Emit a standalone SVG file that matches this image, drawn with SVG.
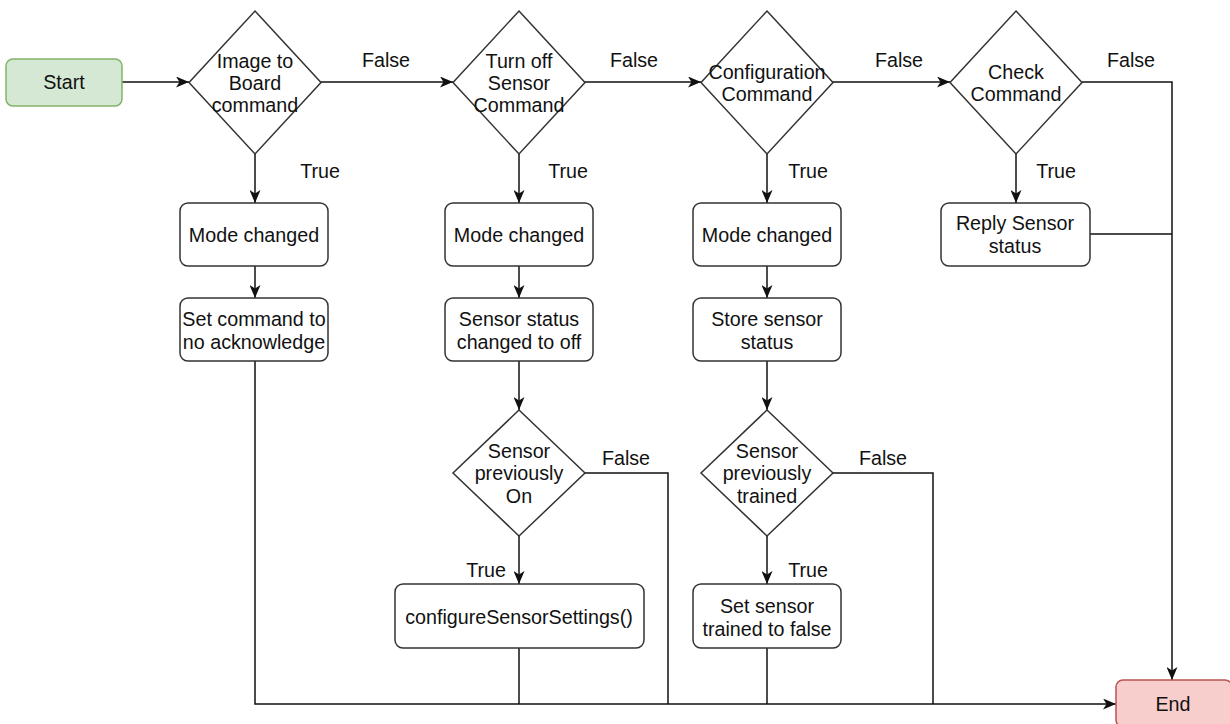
<svg xmlns="http://www.w3.org/2000/svg" width="1230" height="724" viewBox="0 0 1230 724">
  <style>
    text { font-family: "Liberation Sans", Arial, sans-serif; font-size: 19.7px; fill: #111; text-anchor: middle; }
    .box { fill: #ffffff; stroke: #333; stroke-width: 1.5; }
    .dec { fill: #ffffff; stroke: #333; stroke-width: 1.5; }
    .start { fill: #d5e8d4; stroke: #82b366; stroke-width: 1.5; }
    .end { fill: #f8cecc; stroke: #b85450; stroke-width: 1.5; }
    .edge { fill: none; stroke: #111; stroke-width: 1.5; }
    .arrow { marker-end: url(#head); }
  </style>
  <defs>
    <marker id="head" viewBox="0 0 13 11" refX="13" refY="5.5" markerWidth="13" markerHeight="11" markerUnits="userSpaceOnUse" orient="auto">
      <path d="M0,0 L13,5.5 L0,11 L3.5,5.5 Z" fill="#111"/>
    </marker>
  </defs>

  <!-- connectors -->
  <g id="connectors">
    <path class="edge arrow" d="M122,82 H189"/>
    <path class="edge arrow" d="M321,82 H453"/>
    <path class="edge arrow" d="M585,82 H701"/>
    <path class="edge arrow" d="M833,82 H950"/>
    <path class="edge arrow" d="M1082,82 H1172 V680"/>
    <path class="edge arrow" d="M255,154 V203"/>
    <path class="edge arrow" d="M519,154 V203"/>
    <path class="edge arrow" d="M767,154 V203"/>
    <path class="edge arrow" d="M1016,154 V203"/>
    <path class="edge arrow" d="M255,266 V298"/>
    <path class="edge arrow" d="M519,266 V298"/>
    <path class="edge arrow" d="M767,266 V298"/>
    <path class="edge arrow" d="M519,361 V410"/>
    <path class="edge arrow" d="M767,361 V410"/>
    <path class="edge arrow" d="M519,536 V584"/>
    <path class="edge arrow" d="M767,536 V584"/>
    <path class="edge" d="M1090,234 H1172"/>
    <path class="edge arrow" d="M255,361 V704 H1116"/>
    <path class="edge" d="M519,648 V704"/>
    <path class="edge" d="M767,648 V704"/>
    <path class="edge" d="M585,473 H668 V704"/>
    <path class="edge" d="M833,473 H933 V704"/>
    <text x="386" y="67">False</text>
    <text x="634" y="67">False</text>
    <text x="899" y="67">False</text>
    <text x="1131" y="67">False</text>
    <text x="320" y="178">True</text>
    <text x="568" y="178">True</text>
    <text x="808" y="178">True</text>
    <text x="1056" y="178">True</text>
    <text x="626" y="465">False</text>
    <text x="883" y="465">False</text>
    <text x="486" y="577">True</text>
    <text x="808" y="577">True</text>
  </g>

  <g id="start">
    <rect class="start" x="6" y="59" width="116" height="47" rx="7"/>
    <text x="64" y="89">Start</text>
  </g>

  <g id="imageToBoard">
    <polygon class="dec" points="255,11 321,82.5 255,154 189,82.5"/>
    <text x="255" y="68">Image to</text>
    <text x="255" y="90">Board</text>
    <text x="255" y="112">command</text>
  </g>

  <g id="turnOffSensor">
    <polygon class="dec" points="519,11 585,82.5 519,154 453,82.5"/>
    <text x="519" y="68">Turn off</text>
    <text x="519" y="90">Sensor</text>
    <text x="519" y="112">Command</text>
  </g>

  <g id="configuration">
    <polygon class="dec" points="767,11 833,82.5 767,154 701,82.5"/>
    <text x="767" y="79">Configuration</text>
    <text x="767" y="101">Command</text>
  </g>

  <g id="checkCommand">
    <polygon class="dec" points="1016,11 1082,82.5 1016,154 950,82.5"/>
    <text x="1016" y="79">Check</text>
    <text x="1016" y="101">Command</text>
  </g>

  <g id="modeChanged1">
    <rect class="box" x="180" y="203" width="148" height="63" rx="8"/>
    <text x="254" y="242">Mode changed</text>
  </g>
  <g id="modeChanged2">
    <rect class="box" x="445" y="203" width="148" height="63" rx="8"/>
    <text x="519" y="242">Mode changed</text>
  </g>
  <g id="modeChanged3">
    <rect class="box" x="693" y="203" width="148" height="63" rx="8"/>
    <text x="767" y="242">Mode changed</text>
  </g>
  <g id="replySensorStatus">
    <rect class="box" x="941" y="203" width="149" height="63" rx="8"/>
    <text x="1015" y="230">Reply Sensor</text>
    <text x="1015" y="253">status</text>
  </g>

  <g id="setCommandNoAck">
    <rect class="box" x="180" y="298" width="148" height="63" rx="8"/>
    <text x="254" y="326">Set command to</text>
    <text x="254" y="349">no acknowledge</text>
  </g>
  <g id="sensorStatusOff">
    <rect class="box" x="445" y="298" width="148" height="63" rx="8"/>
    <text x="519" y="326">Sensor status</text>
    <text x="519" y="349">changed to off</text>
  </g>
  <g id="storeSensorStatus">
    <rect class="box" x="693" y="298" width="148" height="63" rx="8"/>
    <text x="767" y="326">Store sensor</text>
    <text x="767" y="349">status</text>
  </g>

  <g id="sensorPreviouslyOn">
    <polygon class="dec" points="519,410 585,473 519,536 453,473"/>
    <text x="519" y="458">Sensor</text>
    <text x="519" y="480">previously</text>
    <text x="519" y="503">On</text>
  </g>
  <g id="sensorPreviouslyTrained">
    <polygon class="dec" points="767,410 833,473 767,536 701,473"/>
    <text x="767" y="458">Sensor</text>
    <text x="767" y="480">previously</text>
    <text x="767" y="503">trained</text>
  </g>

  <g id="configureSensorSettings">
    <rect class="box" x="395" y="584" width="249" height="64" rx="8"/>
    <text x="519" y="624">configureSensorSettings()</text>
  </g>
  <g id="setSensorTrainedFalse">
    <rect class="box" x="693" y="584" width="148" height="64" rx="8"/>
    <text x="767" y="613">Set sensor</text>
    <text x="767" y="636">trained to false</text>
  </g>

  <g id="end">
    <rect class="end" x="1116" y="680" width="116" height="47" rx="7"/>
    <text x="1173" y="711">End</text>
  </g>
</svg>
